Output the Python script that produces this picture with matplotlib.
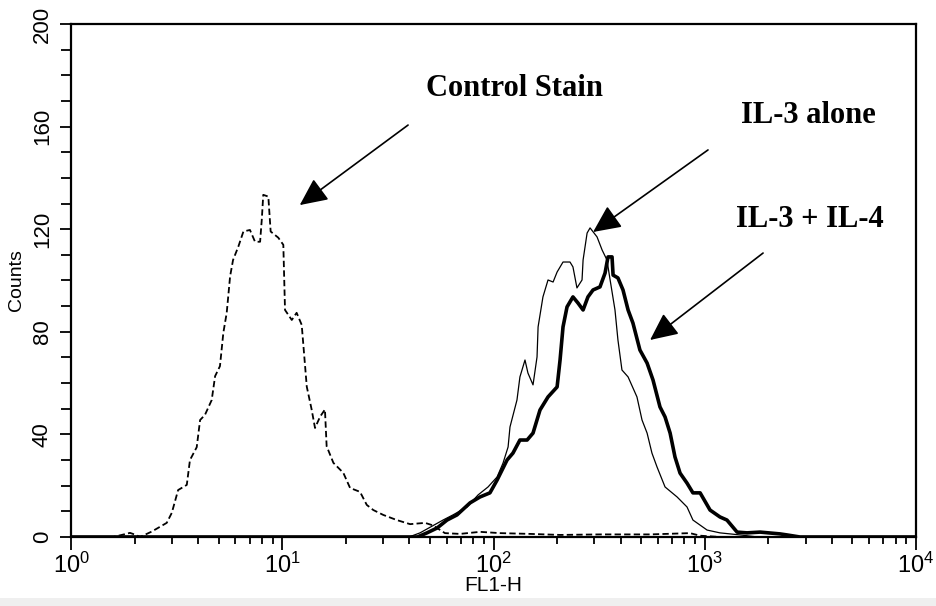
"""
FL1-H flow cytometry histogram: control stain vs IL-3 and IL-3 + IL-4.
"""

import numpy as np
import matplotlib.pyplot as plt
from matplotlib.patches import Rectangle
from matplotlib.ticker import FixedLocator, LogFormatterMathtext, LogLocator

plt.rcParams["font.family"] = ["Liberation Sans", "DejaVu Sans"]
plt.rcParams["mathtext.fontset"] = "custom"
plt.rcParams["mathtext.rm"] = "Liberation Sans"

# --- histogram traces: channel position (log10 of FL1-H) and counts ---
control_log10 = [
    0.00, 0.20, 0.26, 0.279, 0.30, 0.327, 0.382, 0.453, 0.477, 0.507, 0.548,
    0.563, 0.595, 0.611, 0.634, 0.666, 0.682, 0.705, 0.721, 0.737, 0.753,
    0.767, 0.792, 0.816, 0.847, 0.871, 0.895, 0.903, 0.910, 0.934, 0.945,
    0.981, 1.005, 1.013, 1.045, 1.068, 1.092, 1.116, 1.139, 1.155, 1.179,
    1.202, 1.210, 1.242, 1.289, 1.321, 1.368, 1.400, 1.431, 1.478, 1.542,
    1.605, 1.676, 1.714, 1.770, 1.841, 1.936, 2.031, 2.173, 2.315, 2.504,
    2.741, 2.930, 2.978, 3.072, 4.00,
]
control_counts = [
    0, 0, 1.2, 1.6, 1.0, 0, 2.1, 5.5, 9.4, 18.3, 20.3,
    30.0, 35.0, 45.6, 47.6, 53.4, 62.7, 66.6, 79.6, 87.4, 101.6,
    108.0, 113.2, 119.1, 119.7, 115.1, 115.1, 123.7, 133.4, 132.7, 119.1,
    116.7, 113.9, 88.5, 84.6, 87.4, 82.7, 58.6, 49.7, 42.5, 46.9,
    49.7, 35.4, 28.9, 25.0, 19.1, 17.6, 12.5, 10.5, 8.6, 6.6,
    5.0, 5.5, 4.5, 1.5, 1.2, 2.0, 1.5, 1.2, 0.8, 1.0,
    1.0, 1.5, 0.5, 0, 0,
]

il3_log10 = [
    0.00, 1.60, 1.652, 1.761, 1.808, 1.875, 1.927, 1.974, 2.017, 2.045,
    2.069, 2.078, 2.111, 2.125, 2.149, 2.163, 2.187, 2.206, 2.211, 2.234,
    2.258, 2.282, 2.301, 2.329, 2.362, 2.376, 2.395, 2.419, 2.424, 2.443,
    2.457, 2.490, 2.514, 2.537, 2.552, 2.575, 2.589, 2.608, 2.637, 2.679,
    2.703, 2.727, 2.750, 2.774, 2.812, 2.869, 2.916, 2.944, 3.011, 3.072,
    3.167, 3.25, 4.00,
]
il3_counts = [
    0, 0, 1.6, 6.6, 8.6, 11.7, 16.4, 19.5, 23.4, 28.8,
    35.1, 42.9, 53.4, 62.4, 69.0, 63.9, 59.3, 70.2, 81.9, 93.6,
    100.2, 99.4, 103.3, 107.2, 107.2, 105.3, 97.1, 100.2, 108.0, 118.5,
    120.5, 117.0, 111.9, 108.0, 100.2, 88.5, 76.8, 65.1, 62.4, 54.6,
    45.6, 40.5, 32.7, 27.3, 19.5, 15.6, 11.7, 6.6, 2.7, 1.6,
    0.8, 0, 0,
]

il3_il4_log10 = [
    0.00, 1.64, 1.685, 1.733, 1.780, 1.827, 1.889, 1.936, 1.983, 2.017,
    2.064, 2.092, 2.125, 2.159, 2.187, 2.220, 2.258, 2.301, 2.315, 2.329,
    2.348, 2.376, 2.400, 2.424, 2.447, 2.471, 2.504, 2.528, 2.542, 2.561,
    2.566, 2.589, 2.613, 2.637, 2.660, 2.693, 2.727, 2.755, 2.788, 2.812,
    2.836, 2.859, 2.883, 2.916, 2.944, 2.978, 3.025, 3.072, 3.105, 3.153,
    3.200, 3.262, 3.356, 3.389, 3.45, 4.00,
]
il3_il4_counts = [
    0, 0, 1.6, 3.5, 6.6, 8.6, 13.3, 15.6, 17.2, 22.2,
    30.0, 32.7, 37.8, 37.8, 40.5, 49.5, 54.6, 58.5, 69.0, 81.9,
    89.7, 93.6, 91.2, 88.5, 93.6, 96.3, 97.5, 102.9, 109.2, 109.2,
    102.1, 101.0, 96.3, 88.5, 83.4, 72.9, 67.8, 61.2, 50.7, 46.8,
    40.5, 31.2, 24.9, 21.0, 17.2, 17.2, 10.5, 7.8, 6.6, 1.9,
    1.6, 1.9, 1.2, 0.8, 0, 0,
]

y_ticks = [0, 40, 80, 120, 160, 200]

fig = plt.figure(figsize=(9.37, 6.06), dpi=100)
ax = fig.add_axes([0.0758, 0.1139, 0.9018, 0.8465])

ax.plot(10 ** np.array(control_log10), control_counts, color="black",
        lw=1.3, ls=(0, (3.5, 1.8)))
ax.plot(10 ** np.array(il3_log10), il3_counts, color="black", lw=0.9)
ax.plot(10 ** np.array(il3_il4_log10), il3_il4_counts, color="black", lw=2.6)

ax.set_xscale("log")
ax.set_xlim(1, 1e4)
ax.set_ylim(0, 200)

ax.xaxis.set_major_locator(LogLocator(base=10, numticks=10))
ax.xaxis.set_minor_locator(LogLocator(base=10, subs=np.arange(2, 10), numticks=10))
ax.xaxis.set_major_formatter(LogFormatterMathtext())
ax.yaxis.set_major_locator(FixedLocator(y_ticks))
ax.yaxis.set_minor_locator(FixedLocator(np.arange(0, 201, 10)))

ax.tick_params(axis="x", which="major", direction="out", length=9, width=1.3,
               labelsize=17, pad=2)
ax.tick_params(axis="x", which="minor", direction="out", length=5, width=1.3)
ax.tick_params(axis="y", which="major", direction="out", length=8, width=1.3,
               labelsize=16, pad=5, labelrotation=90)
ax.tick_params(axis="y", which="minor", direction="out", length=7, width=1.3)
for lbl in ax.get_yticklabels():
    lbl.set_verticalalignment("center")

for side in ["left", "bottom", "top", "right"]:
    ax.spines[side].set_linewidth(1.6)

ax.set_xlabel("FL1-H", fontsize=15, labelpad=-1)
ax.set_ylabel("Counts", fontsize=14, labelpad=5)

# --- annotations ---
label_style = dict(fontsize=22, fontweight="bold", family="Liberation Serif",
                   ha="center", va="center")
arrow_style = dict(arrowstyle="-|>,head_length=1.7,head_width=0.8",
                   color="black", lw=1.2, shrinkA=0, shrinkB=0)

ax.text(126, 175, "Control Stain", **label_style)
ax.annotate("", xy=(12.1, 129.4), xytext=(39.4, 160.6), arrowprops=arrow_style)

ax.text(3083, 164.5, "IL-3 alone", **label_style)
ax.annotate("", xy=(296, 118.9), xytext=(1036, 150.9), arrowprops=arrow_style)

ax.text(3150, 123.6, "IL-3 + IL-4", **label_style)
ax.annotate("", xy=(551, 76.8), xytext=(1888, 110.7), arrowprops=arrow_style)

# faint strip along the lower edge of the figure
fig.patches.append(Rectangle((0, 0), 1, 0.014, transform=fig.transFigure,
                             facecolor="#efefef", edgecolor="none", zorder=-1))

fig.savefig("out.png", dpi=100)
